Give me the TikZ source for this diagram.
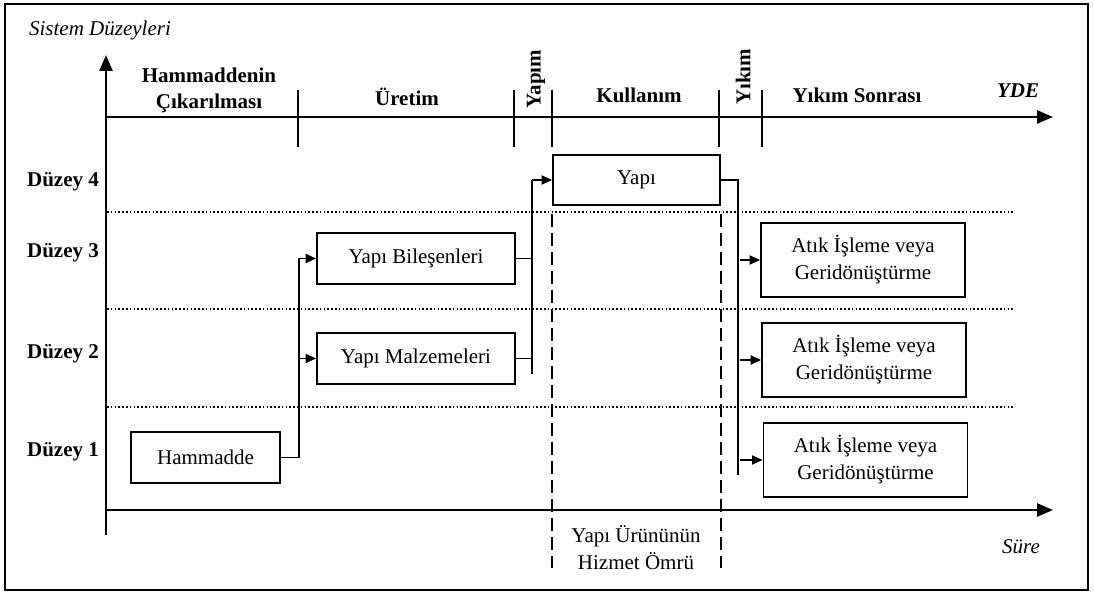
\documentclass[tikz,border=0pt]{standalone}
\usepackage{fontspec}
\setmainfont{Liberation Serif}
\usetikzlibrary{arrows.meta}
\begin{document}
\begin{tikzpicture}[x=1pt,y=-1pt,
  txt/.style={font=\fontsize{21}{27}\selectfont, inner sep=0pt, align=center},
  hdr/.style={font=\fontsize{21}{26}\selectfont\bfseries, inner sep=0pt, align=center},
  itl/.style={font=\fontsize{21}{26}\selectfont\itshape, inner sep=0pt},
  box/.style={draw, line width=1.8pt, txt},
  axisline/.style={line width=2.6pt, -{Triangle[length=16pt,width=13pt]}},
  phase/.style={line width=2pt},
  link/.style={line width=1.9pt},
  arr/.style={link, -{Triangle[length=10.5pt,width=9pt]}},
  levelsep/.style={line width=1.5pt, dash pattern=on 1.6pt off 2.2pt},
  life/.style={line width=1.6pt, dash pattern=on 13pt off 6pt}]

\useasboundingbox (0,0) rectangle (1094,593);
\draw[line width=1.6pt] (5,4) rectangle (1088,590);

% axes
\coordinate (O) at (106,535);
\coordinate (Ytop) at (106,55);
\coordinate (Ta) at (106,117);
\coordinate (Tb) at (1053,117);
\coordinate (Ba) at (106,510);
\coordinate (Bb) at (1053,510);
\draw[axisline] (O) -- (Ytop);
\draw[axisline] (Ta) -- (Tb);
\draw[axisline] (Ba) -- (Bb);

% phase boundaries on the time axis
\foreach \x/\n in {298/p1,514/p2,552/p3,719/p4,762/p5}{
  \coordinate (\n a) at (\x,90);
  \coordinate (\n b) at (\x,147);
  \draw[phase] (\n a) -- (\n b);
}

% level separators
\foreach \y/\n in {212/s1,309/s2,407/s3}{
  \coordinate (\n a) at (107,\y);
  \coordinate (\n b) at (1013,\y);
  \draw[levelsep] (\n a) -- (\n b);
}

% texts
\node[itl] (sys) at (100,30) {Sistem Düzeyleri};
\node[hdr] (ph1) at (209,90) {Hammaddenin\\Çıkarılması};
\node[hdr] (ph2) at (407,97) {Üretim};
\node[hdr, rotate=90] (ph3) at (536,79) {Yapım};
\node[hdr] (ph4) at (639,95) {Kullanım};
\node[hdr, rotate=90] (ph5) at (743,77) {Yıkım};
\node[hdr] (ph6) at (857,95) {Yıkım Sonrası};
\node[hdr, font=\fontsize{21}{26}\selectfont\bfseries\itshape] (yde) at (1018,91) {YDE};

\node[hdr] (d4) at (63,182) {Düzey 4};
\node[hdr] (d3) at (63,253) {Düzey 3};
\node[hdr] (d2) at (63,354) {Düzey 2};
\node[hdr] (d1) at (63,452) {Düzey 1};

\node[itl] (sure) at (1021,547) {Süre};
\node[txt] (omur) at (636,548) {Yapı Ürününün\\Hizmet Ömrü};

% boxes
\node[box, minimum width=149pt, minimum height=51pt] (ham) at (205.5,457.5) {Hammadde};
\node[box, minimum width=198pt, minimum height=51pt] (bil) at (416,258.5) {Yapı Bileşenleri};
\node[box, minimum width=198pt, minimum height=51pt] (mal) at (416,358.5) {Yapı Malzemeleri};
\node[box, minimum width=167pt, minimum height=50pt] (yapi) at (636.5,180) {Yapı};
\node[box, minimum width=204pt, minimum height=74pt] (atik3) at (863,260) {Atık İşleme veya\\Geridönüştürme};
\node[box, minimum width=204pt, minimum height=74pt] (atik2) at (864,360) {Atık İşleme veya\\Geridönüştürme};
\node[box, minimum width=204pt, minimum height=74pt] (atik1) at (865.5,460) {Atık İşleme veya\\Geridönüştürme};

% service life of the building
\draw[life] ([yshift=-8pt]yapi.south west) -- ++(0,354) coordinate (lifeA);
\draw[life] ([yshift=-8pt]yapi.south east) -- ++(0,354) coordinate (lifeB);

% flows between levels
\coordinate (jA) at (299,0);
\coordinate (jB) at (532,0);
\coordinate (jC) at (738,0);
\coordinate (jCa) at (740,0);

\draw[link] (ham.east) -- (ham.east -| jA) -- (bil.west -| jA);
\draw[arr] (bil.west -| jA) -- (bil.west);
\draw[arr] (mal.west -| jA) -- (mal.west);

\draw[link] (bil.east) -- (bil.east -| jB);
\draw[link] (mal.east) -- (mal.east -| jB);
\draw[link] ([yshift=-15pt]mal.east -| jB) -- (yapi.west -| jB);
\draw[arr] (yapi.west -| jB) -- (yapi.west);

\draw[link] (yapi.east) -- (yapi.east -| jC) -- ([yshift=-15pt]atik1.west -| jC);
\draw[arr] (atik3.west -| jCa) -- (atik3.west);
\draw[arr] (atik2.west -| jCa) -- (atik2.west);
\draw[arr] (atik1.west -| jCa) -- (atik1.west);
\end{tikzpicture}
\end{document}
